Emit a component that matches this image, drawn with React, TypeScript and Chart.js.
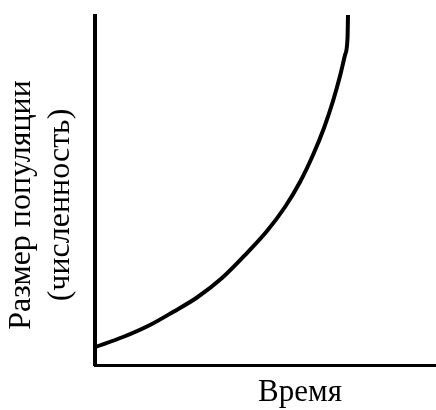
import React, { useEffect, useRef } from 'react';
import { Chart, registerables } from 'chart.js';

Chart.register(...registerables);

// Time (x) and population size (y)
const timeValues = [0, 0.683, 1.341, 1.902, 2.488, 3.098, 3.683, 4.195, 4.634, 5.0, 5.317, 5.585, 5.805, 5.976, 6.098, 6.159, 6.171];
const populationValues = [5.29, 8.15, 11.59, 15.31, 19.46, 25.04, 31.9, 38.48, 45.35, 52.5, 60.23, 67.95, 75.68, 82.83, 88.84, 93.71, 100.29];

const xAxisTitle = 'Время';
const yAxisTitle = ['Размер популяции', '(численность)'];

const xRange = [0, 10];
const yRange = [0, 100];

const FONT = "'Times New Roman', 'Liberation Serif', 'DejaVu Serif', serif";

export default function App() {
  const canvasRef = useRef<HTMLCanvasElement | null>(null);

  useEffect(() => {
    const canvas = canvasRef.current;
    if (!canvas) return;
    const points = timeValues.map((t, i) => ({ x: t, y: populationValues[i] }));
    const chart = new Chart(canvas, {
      type: 'line',
      data: {
        datasets: [
          {
            data: points,
            borderColor: '#000',
            borderWidth: 4,
            pointRadius: 0,
            fill: false,
            cubicInterpolationMode: 'monotone',
            clip: false as any,
          },
        ],
      },
      options: {
        responsive: false,
        animation: false,
        devicePixelRatio: 1,
        layout: { padding: 0 },
        plugins: {
          legend: { display: false },
          tooltip: { enabled: false },
          title: {
            display: true,
            position: 'left',
            fullSize: true,
            text: yAxisTitle,
            color: '#000',
            font: { family: FONT, size: 32, weight: 'normal', lineHeight: 39 / 32 },
            padding: { top: 2.5, bottom: 14.5 },
          },
          subtitle: {
            display: true,
            position: 'top',
            fullSize: true,
            text: ' ',
            font: { family: FONT, size: 16, lineHeight: 1 },
            padding: 0,
          },
        },
        scales: {
          x: {
            type: 'linear',
            min: xRange[0],
            max: xRange[1],
            ticks: { display: false },
            grid: { display: false, drawTicks: false },
            border: { display: true, color: '#000', width: 3 },
            title: {
              display: true,
              text: xAxisTitle,
              color: '#000',
              font: { family: FONT, size: 31, weight: 'normal', lineHeight: 1 },
              padding: { top: 11.5, bottom: 2 },
            },
          },
          y: {
            type: 'linear',
            min: yRange[0],
            max: yRange[1],
            ticks: { display: false },
            grid: { display: false, drawTicks: false },
            border: { display: true, color: '#000', width: 4 },
            title: { display: false },
          },
        },
      },
    });
    return () => chart.destroy();
  }, []);

  return (
    <div
      style={{
        position: 'fixed',
        left: 0,
        top: 0,
        width: 436,
        height: 410,
        overflow: 'hidden',
        background: '#fff',
      }}
    >
      <canvas ref={canvasRef} width={505} height={410} style={{ display: 'block' }} />
    </div>
  );
}
